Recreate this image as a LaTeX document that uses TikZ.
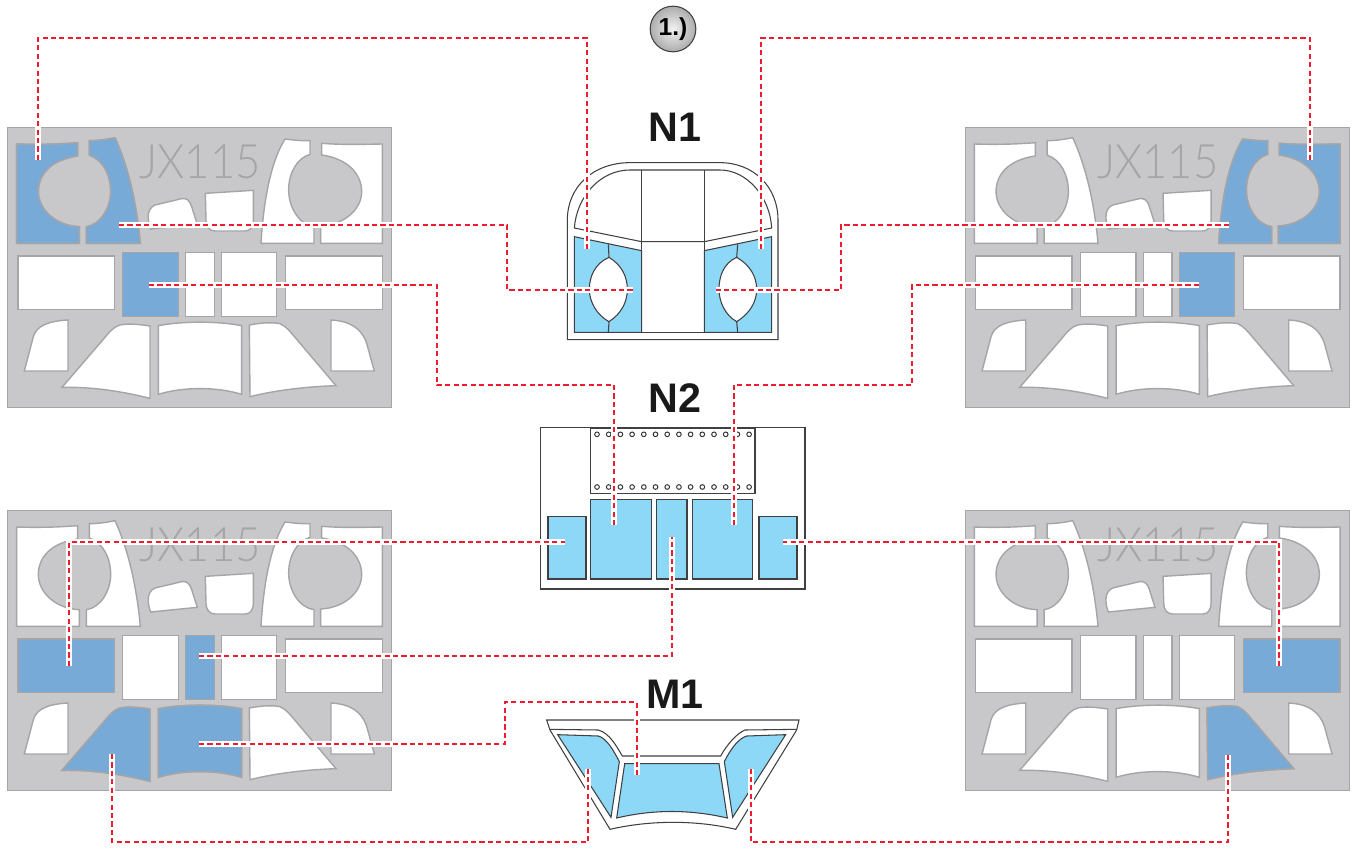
\documentclass[tikz,border=0pt]{standalone}
\usepackage{fontspec}
\setmainfont{Liberation Sans}
\newfontfamily\markfont[FakeStretch=0.92]{Lato Light}
\definecolor{sheetgray}{RGB}{200,200,202}
\definecolor{sheetedge}{RGB}{165,165,168}
\definecolor{maskblue}{RGB}{120,170,215}
\definecolor{paintblue}{RGB}{141,215,247}
\definecolor{linkred}{RGB}{237,28,46}
\tikzset{
  sheetbase/.style={draw=sheetedge,fill=sheetgray,line width=0.6pt},
  maskpart/.style={draw=sheetedge,line width=0.8pt},
  sheetmark/.style={inner sep=0pt,text=sheetedge,font=\markfont\fontsize{27}{27}\selectfont},
  cutline/.style={draw=black!75,line width=0.6pt},
  cutblue/.style={cutline,fill=paintblue},
  title/.style={inner sep=0pt,font=\bfseries\fontsize{23.5}{24}\selectfont,text=black!90},
  badge/.style={circle,draw=black!75,line width=0.6pt,inner color=gray!10,outer color=gray!65,minimum size=26pt,inner sep=0pt,font=\bfseries\fontsize{14}{14}\selectfont},
  hole/.style={draw=black!80,line width=0.55pt,fill=white},
  link/.style={draw=linkred,line width=1.6pt,dash pattern=on 2.9pt off 1.9pt,preaction={draw=white,line width=3pt,solid}},
  mask A/.style={insert path={(50,72) .. controls (110,74) and (170,73) .. (233,68) -- (233,108) .. controls (150,120) and (115,165) .. (115,215) .. controls (115,270) and (170,318) .. (238,320) -- (238,370) -- (50,370) -- cycle}},
  mask B/.style={insert path={(268,62) .. controls (295,62) and (320,58) .. (345,53) .. controls (385,140) and (410,250) .. (421,370) -- (259,370) -- (259,320) .. controls (300,315) and (332,265) .. (332,215) .. controls (332,165) and (310,120) .. (268,105) -- cycle}},
  mask C/.style={insert path={(855,57) .. controls (880,60) and (905,63) .. (930,62) -- (930,103) .. controls (890,115) and (866,160) .. (866,210) .. controls (866,265) and (900,315) .. (942,320) -- (942,370) -- (783,370) .. controls (790,250) and (810,130) .. (855,57) -- cycle}},
  mask D/.style={insert path={(965,70) .. controls (1030,75) and (1090,73) .. (1147,72) -- (1147,370) -- (962,370) -- (962,318) .. controls (1030,315) and (1085,270) .. (1085,215) .. controls (1085,160) and (1040,115) .. (965,105) -- cycle}},
  mask E/.style={insert path={(465,255) -- (545,236) .. controls (560,233) and (570,242) .. (575,260) -- (592,313) -- (452,327) .. controls (445,310) and (435,268) .. (465,255) -- cycle}},
  mask F/.style={insert path={(616,220) -- (760,211) -- (760,300) .. controls (760,322) and (750,333) .. (735,333) -- (645,333) .. controls (628,333) and (618,320) .. (618,300) -- cycle}},
  mask G/.style={insert path={(54,408) rectangle (343,569)}},
  mask H/.style={insert path={(368,397) rectangle (535,589)}},
  mask I/.style={insert path={(557,397) rectangle (643,589)}},
  mask J/.style={insert path={(665,397) rectangle (830,589)}},
  mask K/.style={insert path={(857,408) rectangle (1147,569)}},
  mask L/.style={insert path={(204,600) -- (204,753) -- (73,753) -- (100,650) .. controls (110,615) and (150,603) .. (204,600) -- cycle}},
  mask M/.style={insert path={(450,618) .. controls (400,610) and (375,612) .. (360,615) .. controls (340,620) and (325,640) .. (310,658) -- (186,802) .. controls (280,800) and (370,815) .. (450,835) -- cycle}},
  mask N/.style={insert path={(475,617) .. controls (550,603) and (650,603) .. (725,617) -- (725,823) .. controls (650,800) and (550,800) .. (475,823) -- cycle}},
  mask O/.style={insert path={(748,615) .. controls (790,607) and (820,607) .. (840,611) .. controls (860,620) and (870,635) .. (885,652) -- (1008,797) .. controls (920,800) and (830,810) .. (750,830) -- cycle}},
  mask P/.style={insert path={(993,600) .. controls (1050,603) and (1085,625) .. (1100,670) -- (1123,753) -- (993,753) -- cycle}},
}
\newcommand\masksheet[3]{
\begin{scope}[shift={(#1)},scale=1/3]
\draw[sheetbase] (22,22) rectangle (1175,862);
\node[sheetmark] (mark#2) at (600,125) {JX115};
\foreach \p in {A,B,C,D,E,F,G,H,I,J,K,L,M,N,O,P}
  \path[maskpart,fill=white,mask \p];
\foreach \p in {#3}
  \path[maskpart,fill=maskblue,mask \p];
\end{scope}
}
\begin{document}
\begin{tikzpicture}[x=0.02cm,y=-0.02cm]
\useasboundingbox (0,0) rectangle (1354,848);

\masksheet{0,120}{TL}{A,B,H}
\masksheet{957.7,120}{TR}{C,D,J}
\masksheet{0,503}{BL}{G,I,M,N}
\masksheet{957.7,503}{BR}{K,O}

\node[badge] (step) at (673,29) {1.)};
\node[title] (nA) at (675,127) {N1};
\node[title] (nB) at (675,398) {N2};
\node[title] (mA) at (675,694) {M1};

\begin{scope}[shift={(530,0)},scale=1/3]
\draw[cutline,fill=white] (112,1019) -- (112,660) .. controls (112,560) and (190,488) .. (300,488) -- (570,488) .. controls (670,488) and (744,560) .. (744,660) -- (744,1019) -- cycle;
\draw[cutline] (133,684) .. controls (140,590) and (210,510) .. (300,510) -- (570,510) .. controls (650,510) and (720,590) .. (725,684) -- (523,725) -- (335,725) -- cycle;
\draw[cutline] (335,510) -- (335,725);
\draw[cutline] (523,510) -- (523,725);
\draw[cutline] (335,725) rectangle (523,997);
\draw[cutblue] (133,710) -- (335,752) -- (335,997) -- (133,997) -- cycle;
\draw[cutblue] (725,710) -- (523,752) -- (523,997) -- (725,997) -- cycle;
\draw[cutline,fill=white] (237,772) .. controls (195,790) and (178,830) .. (178,868) .. controls (178,905) and (200,945) .. (237,965) .. controls (275,940) and (292,905) .. (292,868) .. controls (292,830) and (275,795) .. (237,772) -- cycle;
\draw[cutline,fill=white] (620,772) .. controls (580,790) and (567,830) .. (567,868) .. controls (567,905) and (585,945) .. (620,965) .. controls (660,940) and (680,905) .. (680,868) .. controls (680,830) and (660,795) .. (620,772) -- cycle;
\draw[cutline] (235,733) -- (237,772);
\draw[cutline] (235,997) -- (237,965);
\draw[cutline] (623,733) -- (620,772);
\draw[cutline] (623,997) -- (620,965);
\end{scope}

\begin{scope}[shift={(530,370)},scale=1/3]
\draw[cutline] (32,172) rectangle (825,657);
\draw[cutline] (182,175) rectangle (675,370);
\foreach \i in {0,...,13} {
  \draw[hole] ({201+35.1*\i},193) circle (7);
  \draw[hole] ({201+35.1*\i},351) circle (7);
}
\draw[cutblue] (54,440) rectangle (168,627);
\draw[cutblue] (182,388) rectangle (364,627);
\draw[cutblue] (380,388) rectangle (471,627);
\draw[cutblue] (487,388) rectangle (668,627);
\draw[cutblue] (687,440) rectangle (801,627);
\end{scope}

\begin{scope}[shift={(530,670)},scale=1/3]
\draw[cutline,fill=white] (50,150) -- (807,150) -- (800,180) -- (617,478) .. controls (500,450) and (360,450) .. (240,478) -- (60,180) -- cycle;
\draw[cutline] (60,178) -- (205,180) .. controls (240,190) and (260,230) .. (277,258) -- (572,258) .. controls (590,225) and (620,190) .. (645,180) -- (800,178);
\draw[cutblue] (83,194) -- (205,198) .. controls (230,205) and (250,240) .. (268,275) -- (243,442) -- cycle;
\draw[cutblue] (284,281) -- (567,281) -- (592,444) .. controls (480,418) and (370,418) .. (260,444) -- cycle;
\draw[cutblue] (767,194) -- (650,198) .. controls (625,205) and (600,240) .. (583,275) -- (608,442) -- cycle;
\end{scope}

\coordinate (aL) at (38,160);
\coordinate (aN) at (587,249);
\coordinate (bR) at (1310,160);
\coordinate (bN) at (761,249);
\coordinate (cL) at (119,225);
\coordinate (cN) at (633,290);
\coordinate (dR) at (1229,225);
\coordinate (dN) at (716,290);
\coordinate (eL) at (149,285);
\coordinate (eN) at (614,525);
\coordinate (fR) at (1199,285);
\coordinate (fN) at (734,525);
\coordinate (gL) at (69,666);
\coordinate (gN) at (565,542);
\coordinate (hR) at (1279,666);
\coordinate (hN) at (783,542);
\coordinate (iL) at (199,656);
\coordinate (iN) at (672,537);
\coordinate (jL) at (199,744);
\coordinate (jM) at (637,775);
\coordinate (kL) at (112,754);
\coordinate (kM) at (588,769);
\coordinate (lR) at (1228,755);
\coordinate (lM) at (751,769);

\draw[link] (aL) -- (38,38) -| (aN);
\draw[link] (bR) -- (1310,38) -| (bN);
\draw[link] (cL) -| (507,290) -- (cN);
\draw[link] (dR) -| (841,290) -- (dN);
\draw[link] (eL) -| (437,385) -| (eN);
\draw[link] (fR) -| (912,385) -| (fN);
\draw[link] (gL) |- (gN);
\draw[link] (hR) |- (hN);
\draw[link] (iL) -| (iN);
\draw[link] (jL) -| (505,702) -| (jM);
\draw[link] (kL) |- (588,842) -- (kM);
\draw[link] (lR) |- (751,842) -- (lM);
\end{tikzpicture}
\end{document}
